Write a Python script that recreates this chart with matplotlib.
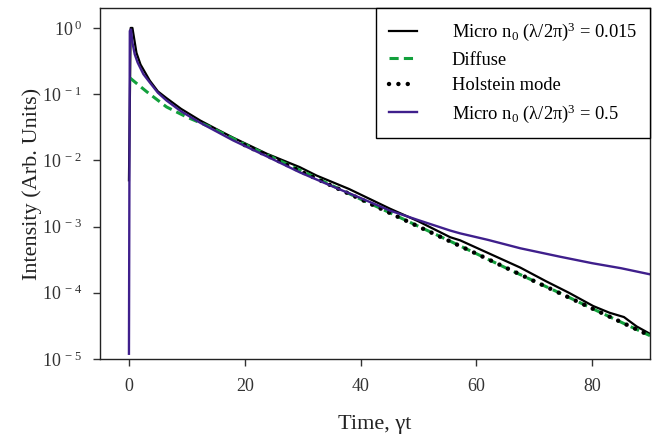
import matplotlib
matplotlib.use("Agg")
import matplotlib.pyplot as plt
from matplotlib.ticker import FixedLocator, FixedFormatter

plt.rcParams['font.family'] = ['Liberation Serif', 'DejaVu Serif']
plt.rcParams['mathtext.fontset'] = 'custom'
plt.rcParams['mathtext.rm'] = 'Liberation Serif'

# Micro n0 (lambda/2pi)^3 = 0.015
t_micro1 = [0.0, 0.3, 0.6, 1.3, 2.0, 3.6, 5.0, 6.5, 9.0, 12.3, 15.0, 18.0, 23.8,
            29.5, 32.4, 38.0, 45.1, 50.0, 55.5, 57.2, 62.0, 67.6, 72.0, 76.0,
            80.2, 83.0, 85.5, 87.7, 90.0]
i_micro1 = [5e-3, 1.0, 1.0, 0.42, 0.28, 0.16, 0.11, 0.087, 0.06, 0.04, 0.03, 0.022, 0.0126,
            0.0079, 0.0059, 0.0037, 0.00186, 0.0012, 6.9e-4, 6.2e-4, 4.0e-4, 2.4e-4, 1.5e-4, 1.0e-4,
            6.3e-5, 5.0e-5, 4.3e-5, 3.1e-5, 2.4e-5]

# Diffuse
t_diffuse = [0.2, 3.0, 6.5, 10.0, 14.0, 20.0, 25.0, 30.0, 35.0, 40.0, 45.0, 50.0,
             55.0, 60.0, 65.0, 70.0, 75.0, 80.0, 85.0, 90.0]
i_diffuse = [0.175, 0.11, 0.064, 0.045, 0.032, 0.0175, 0.0109, 0.0068, 0.0042, 0.0026,
             0.00163, 0.00101, 6.3e-4, 3.9e-4, 2.4e-4, 1.5e-4, 9.4e-5, 5.8e-5, 3.6e-5, 2.25e-5]

# Holstein mode
t_holstein = [20.0, 30.0, 40.0, 50.0, 60.0, 70.0, 80.0, 90.0]
i_holstein = [0.0170, 0.0066, 0.0026, 0.00100, 3.9e-4, 1.5e-4, 5.8e-5, 2.25e-5]

# Micro n0 (lambda/2pi)^3 = 0.5
t_micro2 = [0.0, 0.15, 0.35, 0.6, 1.0, 1.5, 2.5, 3.6, 5.0, 6.5, 9.0, 12.3, 18.0,
            23.8, 29.5, 35.0, 40.0, 45.1, 50.0, 55.5, 57.2, 62.0, 67.6, 74.5,
            80.0, 85.0, 90.0]
i_micro2 = [1.2e-5, 0.9, 0.95, 0.6, 0.4, 0.3, 0.2, 0.15, 0.105, 0.08, 0.055, 0.037, 0.02,
            0.0115, 0.0066, 0.0041, 0.0027, 0.00174, 0.00125, 8.7e-4, 7.9e-4, 6.3e-4, 4.7e-4, 3.5e-4,
            2.8e-4, 2.35e-4, 1.9e-4]

x_ticks = [0, 20, 40, 60, 80]
y_ticks = [1e0, 1e-1, 1e-2, 1e-3, 1e-4, 1e-5]
y_labels = [r'$\mathregular{10^{\,0}}$', r'$\mathregular{10^{\,-1}}$', r'$\mathregular{10^{\,-2}}$',
            r'$\mathregular{10^{\,-3}}$', r'$\mathregular{10^{\,-4}}$', r'$\mathregular{10^{\,-5}}$']

fig = plt.figure(figsize=(6.66, 4.42), dpi=100)
ax = fig.add_axes([100 / 666, 83 / 442, 550 / 666, 351 / 442])

ax.plot(t_micro1, i_micro1, color='black', lw=1.6,
        label=r'Micro $\mathregular{n_0}$ (λ/2π$\mathregular{)^3}$ = 0.015')
ax.plot(t_diffuse, i_diffuse, color='#12a03c', lw=2.2, ls=(0, (3, 1.7)),
        label='Diffuse')
ax.plot(t_holstein, i_holstein, color='black', lw=3.2, ls=(0, (0.01, 2.1)),
        dash_capstyle='round', label='Holstein mode')
ax.plot(t_micro2, i_micro2, color='#3f1f8c', lw=1.7,
        label=r'Micro $\mathregular{n_0}$ (λ/2π$\mathregular{)^3}$ = 0.5')

ax.set_yscale('log')
ax.set_xlim(-5, 90)
ax.set_ylim(1e-5, 2)
ax.xaxis.set_major_locator(FixedLocator(x_ticks))
ax.yaxis.set_major_locator(FixedLocator(y_ticks))
ax.yaxis.set_major_formatter(FixedFormatter(y_labels))
ax.yaxis.set_minor_locator(FixedLocator([]))
ax.tick_params(axis='both', which='major', direction='out', length=5, width=1,
               labelsize=13, colors='#333333', top=False, right=False)
ax.tick_params(axis='x', pad=9)
ax.tick_params(axis='y', pad=8)
for s in ax.spines.values():
    s.set_linewidth(1.0)
    s.set_color('#222222')

ax.set_xlabel('Time, γt', fontsize=16, color='#222222', labelpad=14)
ax.set_ylabel('Intensity (Arb. Units)', fontsize=16, color='#222222', labelpad=0)

leg = ax.legend(loc='upper right', bbox_to_anchor=(1.0, 1.0), borderaxespad=0,
                fancybox=False, framealpha=1, edgecolor='black', fontsize=13.3,
                handlelength=1.5, handletextpad=1.9, labelspacing=0.45,
                borderpad=0.7)
leg.get_frame().set_linewidth(1.0)

fig.savefig('out.png', dpi=100)
